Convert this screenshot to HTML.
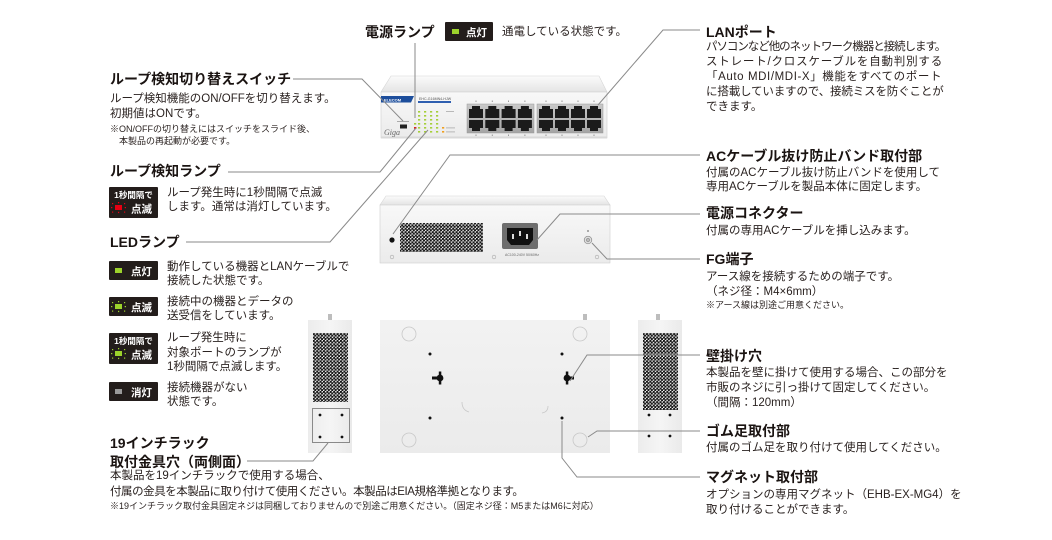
<!DOCTYPE html>
<html><head><meta charset="utf-8">
<style>
*{margin:0;padding:0;box-sizing:border-box}
body{width:1052px;height:540px;background:#fff;overflow:hidden;position:relative;font-family:"Liberation Sans","Noto Sans CJK JP",sans-serif;color:#231815}
.h{position:absolute;font-weight:bold;font-size:14px;line-height:18px;white-space:nowrap;color:#1a1311}
.t{position:absolute;font-size:11.5px;line-height:15px;white-space:nowrap;color:#2a2220}
.s{position:absolute;font-size:9px;line-height:11.5px;white-space:nowrap;color:#2a2220}
svg{position:absolute;left:0;top:0}
</style></head><body>
<svg width="1052" height="540" viewBox="0 0 1052 540" font-family="Liberation Sans, Noto Sans CJK JP, sans-serif">
<defs>
 <pattern id="mesh" width="3.4" height="3.4" patternUnits="userSpaceOnUse">
  <circle cx="0.85" cy="0.85" r="1.2" fill="#151515"/>
  <circle cx="2.55" cy="2.55" r="1.2" fill="#151515"/>
 </pattern>
 <linearGradient id="lid" x1="0" y1="0" x2="0" y2="1"><stop offset="0" stop-color="#fbfbfb"/><stop offset="1" stop-color="#e4e4e4"/></linearGradient>
 <linearGradient id="face" x1="0" y1="0" x2="0" y2="1"><stop offset="0" stop-color="#f8f8f8"/><stop offset="1" stop-color="#ebebeb"/></linearGradient>
 <linearGradient id="bot" x1="0" y1="0" x2="0" y2="1"><stop offset="0" stop-color="#f2f2f2"/><stop offset="1" stop-color="#ebebeb"/></linearGradient>
 <linearGradient id="side" x1="0" y1="0" x2="1" y2="0"><stop offset="0" stop-color="#ececec"/><stop offset="0.5" stop-color="#f5f5f5"/><stop offset="1" stop-color="#eaeaea"/></linearGradient>
 <linearGradient id="port" x1="0" y1="0" x2="0" y2="1"><stop offset="0" stop-color="#c9c9c9"/><stop offset="1" stop-color="#a4a4a4"/></linearGradient>
</defs>

<!-- FRONT DEVICE -->
<polygon points="391,76 599,76 607,92 381,92" fill="url(#lid)" stroke="#d6d6d6" stroke-width=".6"/>
<rect x="381" y="92" width="226" height="46" fill="url(#face)" stroke="#cfcfcf" stroke-width=".6"/>
<rect x="381" y="136.5" width="226" height="2" fill="#d9d9d9"/>
<polygon points="381,96 414,96 411,102.5 381,102.5" fill="#1d4e9c"/>
<text x="384" y="101.3" font-size="4" fill="#fff" font-weight="bold">ELECOM</text>
<text x="419" y="100" font-size="3.6" fill="#555">EHC-G16MN4-HJW</text>
<rect x="418" y="101" width="33" height="2" fill="#2f5fb0"/>
<g fill="#a6cf3a">
 <rect x="418" y="111" width="2.2" height="1.6"/><rect x="424" y="111" width="2.2" height="1.6"/><rect x="430" y="111" width="2.2" height="1.6"/><rect x="436" y="111" width="2.2" height="1.6"/>
 <rect x="418" y="115" width="2.2" height="1.6"/><rect x="424" y="115" width="2.2" height="1.6"/><rect x="430" y="115" width="2.2" height="1.6"/><rect x="436" y="115" width="2.2" height="1.6"/>
 <rect x="418" y="119" width="2.2" height="1.6"/><rect x="424" y="119" width="2.2" height="1.6"/><rect x="430" y="119" width="2.2" height="1.6"/><rect x="436" y="119" width="2.2" height="1.6"/>
 <rect x="418" y="123" width="2.2" height="1.6"/><rect x="424" y="123" width="2.2" height="1.6"/><rect x="430" y="123" width="2.2" height="1.6"/><rect x="436" y="123" width="2.2" height="1.6"/>
 <rect x="418" y="127" width="2.2" height="1.6"/><rect x="424" y="127" width="2.2" height="1.6"/><rect x="430" y="127" width="2.2" height="1.6"/><rect x="436" y="127" width="2.2" height="1.6"/>
 <rect x="418" y="131" width="2.2" height="1.6"/><rect x="424" y="131" width="2.2" height="1.6"/><rect x="430" y="131" width="2.2" height="1.6"/><rect x="436" y="131" width="2.2" height="1.6"/>
 <rect x="414" y="123" width="2.2" height="1.6"/>
</g>
<rect x="414" y="127" width="2.4" height="1.8" fill="#e0201a"/>
<rect x="442" y="127" width="2.2" height="1.6" fill="#f0a020"/>
<rect x="442" y="131" width="2.2" height="1.6" fill="#f0a020"/>
<rect x="446" y="111" width="8" height="0.8" fill="#aaa"/>
<rect x="446" y="127.5" width="9" height="0.8" fill="#aaa"/>
<rect x="446" y="131.5" width="9" height="0.8" fill="#aaa"/>
<rect x="397" y="121" width="12" height="0.8" fill="#999"/>
<rect x="400" y="124.5" width="7" height="4" fill="#222"/>
<text x="384" y="135" font-size="8" font-style="italic" font-family="Liberation Serif, serif" fill="#666">Giga</text>

<rect x="467" y="104" width="67" height="29" fill="url(#port)" stroke="#999" stroke-width=".5"/>
<rect x="537" y="104" width="66" height="29" fill="url(#port)" stroke="#999" stroke-width=".5"/>
<g fill="#1b1b1b">
 <path d="M469,109 h3 v-3 h8 v3 h3 v9 h-14 z"/><path d="M485.3,109 h3 v-3 h8 v3 h3 v9 h-14 z"/><path d="M501.6,109 h3 v-3 h8 v3 h3 v9 h-14 z"/><path d="M517.9,109 h3 v-3 h8 v3 h3 v9 h-14 z"/>
 <path d="M469,120 h14 v8 h-3 v3 h-8 v-3 h-3 z"/><path d="M485.3,120 h14 v8 h-3 v3 h-8 v-3 h-3 z"/><path d="M501.6,120 h14 v8 h-3 v3 h-8 v-3 h-3 z"/><path d="M517.9,120 h14 v8 h-3 v3 h-8 v-3 h-3 z"/>
 <path d="M539,109 h3 v-3 h8 v3 h3 v9 h-14 z"/><path d="M555,109 h3 v-3 h8 v3 h3 v9 h-14 z"/><path d="M571,109 h3 v-3 h8 v3 h3 v9 h-14 z"/><path d="M587,109 h3 v-3 h8 v3 h3 v9 h-14 z"/>
 <path d="M539,120 h14 v8 h-3 v3 h-8 v-3 h-3 z"/><path d="M555,120 h14 v8 h-3 v3 h-8 v-3 h-3 z"/><path d="M571,120 h14 v8 h-3 v3 h-8 v-3 h-3 z"/><path d="M587,120 h14 v8 h-3 v3 h-8 v-3 h-3 z"/>
</g>
<g fill="#999">
 <rect x="475.5" y="100.5" width="1" height="1.5"/><rect x="491.8" y="100.5" width="1" height="1.5"/><rect x="508" y="100.5" width="1" height="1.5"/><rect x="524.4" y="100.5" width="1" height="1.5"/>
 <rect x="545.5" y="100.5" width="1" height="1.5"/><rect x="561.5" y="100.5" width="1" height="1.5"/><rect x="577.5" y="100.5" width="1" height="1.5"/><rect x="593.5" y="100.5" width="1" height="1.5"/>
 <rect x="475.5" y="134.5" width="1" height="1.5"/><rect x="491.8" y="134.5" width="1" height="1.5"/><rect x="508" y="134.5" width="1" height="1.5"/><rect x="524.4" y="134.5" width="1" height="1.5"/>
 <rect x="545.5" y="134.5" width="1" height="1.5"/><rect x="561.5" y="134.5" width="1" height="1.5"/><rect x="577.5" y="134.5" width="1" height="1.5"/><rect x="593.5" y="134.5" width="1" height="1.5"/>
</g>

<!-- REAR DEVICE -->
<polygon points="386,196 604,196 610,205 380,205" fill="url(#lid)" stroke="#d6d6d6" stroke-width=".6"/>
<rect x="380" y="205" width="230" height="58" fill="url(#face)" stroke="#cfcfcf" stroke-width=".6"/>
<rect x="400" y="223" width="83" height="29" fill="url(#mesh)"/>
<rect x="502" y="223" width="36" height="26" rx="2" fill="#6e6e6e"/>
<path d="M507,228 h26 v12 l-4,5 h-18 l-4,-5 z" fill="#111"/>
<rect x="512" y="234" width="2" height="5" fill="#ddd"/>
<rect x="519" y="231" width="2" height="5" fill="#ddd"/>
<rect x="526" y="234" width="2" height="5" fill="#ddd"/>
<text x="505" y="256" font-size="3.5" fill="#666">AC100-240V 50/60Hz</text>
<circle cx="392" cy="240" r="2.6" fill="#111"/>
<circle cx="588" cy="240" r="3.8" fill="#ddd" stroke="#888" stroke-width=".7"/>
<circle cx="588" cy="240" r="1.7" fill="#bbb" stroke="#777" stroke-width=".5"/>
<rect x="587" y="230" width="2" height="2" fill="#aaa"/>
<g fill="none" stroke="#aaa" stroke-width=".6">
 <circle cx="392" cy="257" r="1.8"/><circle cx="494" cy="257" r="1.8"/><circle cx="597" cy="257" r="1.8"/>
</g>

<!-- BOTTOM VIEW -->
<rect x="380" y="320" width="230" height="133" fill="url(#bot)"/>
<g fill="none" stroke="#c8c8c8" stroke-width=".8">
 <circle cx="409" cy="334" r="7"/><circle cx="580" cy="334" r="7"/><circle cx="409" cy="440" r="7"/><circle cx="580" cy="440" r="7"/>
 <path d="M462,402 q0,8 7,10"/><path d="M548,406 q0,6 -6,7"/>
</g>
<g fill="#111">
 <circle cx="430" cy="354" r="1.5"/><circle cx="562" cy="354" r="1.5"/><circle cx="430" cy="418" r="1.5"/><circle cx="562" cy="418" r="1.5"/>
 <circle cx="440" cy="378" r="3.4"/><rect x="438.8" y="371.5" width="2.5" height="13"/><rect x="432" y="376.5" width="8" height="3"/>
 <circle cx="567" cy="378" r="3.4"/><rect x="565.8" y="371.5" width="2.5" height="13"/><rect x="567" y="376.5" width="7" height="3"/>
</g>
<g fill="#bdbdbd">
 <rect x="328" y="314" width="4" height="6"/><rect x="583" y="314" width="4" height="6"/><rect x="656" y="314" width="4" height="6"/>
</g>

<!-- SIDE PANELS -->
<rect x="308" y="320" width="44" height="133" fill="url(#side)"/>
<rect x="313" y="333" width="35" height="69" fill="url(#mesh)"/>
<rect x="312.5" y="408.5" width="37" height="34" fill="none" stroke="#8a8a8a" stroke-width="1"/>
<rect x="638" y="320" width="44" height="133" fill="url(#side)"/>
<rect x="643" y="333" width="35" height="77" fill="url(#mesh)"/>
<g fill="#111">
 <circle cx="320" cy="415" r="1.4"/><circle cx="342" cy="415" r="1.4"/><circle cx="320" cy="437" r="1.4"/><circle cx="342" cy="437" r="1.4"/>
 <circle cx="649" cy="415" r="1.4"/><circle cx="670" cy="415" r="1.4"/><circle cx="649" cy="436" r="1.4"/><circle cx="670" cy="436" r="1.4"/>
</g>

<!-- LEADER LINES -->
<g fill="none" stroke="#8a8a8a" stroke-width="1">
 <path d="M293,79 H362 L403,121"/>
 <path d="M415,43 V118"/>
 <path d="M228,172 H380 L416,128"/>
 <path d="M186,242 H330 L428,130"/>
 <path d="M700,30 H663 L598,105"/>
 <path d="M700,155 H450 L393,234"/>
 <path d="M700,214 H560 L537,240"/>
 <path d="M700,259 H607 L592,243"/>
 <path d="M700,355 H587 L570,381"/>
 <path d="M700,431 H597 L588,437"/>
 <path d="M562,421 V458 L577,477 H700"/>
 <path d="M247,461 H313 L328,443"/>
</g>

<!-- BADGES -->
<g font-weight="bold" fill="#fff">
 <rect x="445" y="22" width="48" height="19" rx="1" fill="#231d1b"/>
 <rect x="452" y="29" width="7" height="5" fill="#9cd22c"/>
 <text x="466" y="36" font-size="10.5">点灯</text>

 <rect x="109" y="187" width="49" height="31" rx="1" fill="#231d1b"/>
 <text x="133.5" y="198" font-size="8.5" text-anchor="middle">1秒間隔で</text>
 <rect x="115" y="205" width="7" height="5" fill="#e60012"/>
 <g fill="#e60012"><rect x="111" y="207" width="1.3" height="1.2"/><rect x="124.7" y="207" width="1.3" height="1.2"/><rect x="118" y="202" width="1.2" height="1.3"/><rect x="118" y="211.8" width="1.2" height="1.3"/><rect x="112" y="203" width="1.2" height="1.2"/><rect x="124" y="203" width="1.2" height="1.2"/><rect x="112" y="211.5" width="1.2" height="1.2"/><rect x="124" y="211.5" width="1.2" height="1.2"/></g>
 <text x="131" y="212.5" font-size="10.5">点滅</text>

 <rect x="109" y="261" width="49" height="19" rx="1" fill="#231d1b"/>
 <rect x="115" y="268" width="7" height="5" fill="#9cd22c"/>
 <text x="131" y="275" font-size="10.5">点灯</text>

 <rect x="109" y="297" width="49" height="19" rx="1" fill="#231d1b"/>
 <rect x="115" y="304" width="7" height="5" fill="#9cd22c"/>
 <g fill="#9cd22c"><rect x="111" y="306" width="1.3" height="1.2"/><rect x="124.7" y="306" width="1.3" height="1.2"/><rect x="118" y="301" width="1.2" height="1.3"/><rect x="118" y="310.8" width="1.2" height="1.3"/><rect x="112" y="302" width="1.2" height="1.2"/><rect x="124" y="302" width="1.2" height="1.2"/><rect x="112" y="310.5" width="1.2" height="1.2"/><rect x="124" y="310.5" width="1.2" height="1.2"/></g>
 <text x="131" y="311" font-size="10.5">点滅</text>

 <rect x="109" y="333" width="49" height="31" rx="1" fill="#231d1b"/>
 <text x="133.5" y="344" font-size="8.5" text-anchor="middle">1秒間隔で</text>
 <rect x="115" y="351" width="7" height="5" fill="#9cd22c"/>
 <g fill="#9cd22c"><rect x="111" y="353" width="1.3" height="1.2"/><rect x="124.7" y="353" width="1.3" height="1.2"/><rect x="118" y="348" width="1.2" height="1.3"/><rect x="118" y="357.8" width="1.2" height="1.3"/><rect x="112" y="349" width="1.2" height="1.2"/><rect x="124" y="349" width="1.2" height="1.2"/><rect x="112" y="357.5" width="1.2" height="1.2"/><rect x="124" y="357.5" width="1.2" height="1.2"/></g>
 <text x="131" y="358.5" font-size="10.5">点滅</text>

 <rect x="109" y="382" width="49" height="19" rx="1" fill="#231d1b"/>
 <rect x="115" y="389" width="7" height="5" fill="#9a9a9a"/>
 <text x="131" y="396" font-size="10.5">消灯</text>
</g>
</svg>

<!-- TOP CENTER -->
<div class="h" style="left:365px;top:23px">電源ランプ</div>
<div class="t" style="left:502px;top:24.5px">通電している状態です。</div>

<!-- LEFT COLUMN -->
<div class="h" style="left:110px;top:70px">ループ検知切り替えスイッチ</div>
<div class="t" style="left:110px;top:92px">ループ検知機能のON/OFFを切り替えます。<br>初期値はONです。</div>
<div class="s" style="left:110px;top:124px">※ON/OFFの切り替えにはスイッチをスライド後、<br>　本製品の再起動が必要です。</div>

<div class="h" style="left:110px;top:162px">ループ検知ランプ</div>
<div class="t" style="left:167px;top:186px;line-height:14px">ループ発生時に1秒間隔で点滅<br>します。通常は消灯しています。</div>

<div class="h" style="left:110px;top:233px">LEDランプ</div>
<div class="t" style="left:167px;top:260px;line-height:14px">動作している機器とLANケーブルで<br>接続した状態です。</div>
<div class="t" style="left:167px;top:295px;line-height:14px">接続中の機器とデータの<br>送受信をしています。</div>
<div class="t" style="left:167px;top:331px;line-height:14.5px">ループ発生時に<br>対象ポートのランプが<br>1秒間隔で点滅します。</div>
<div class="t" style="left:167px;top:381px;line-height:14px">接続機器がない<br>状態です。</div>

<div class="h" style="left:110px;top:434px;line-height:19px">19インチラック<br>取付金具穴（両側面）</div>
<div class="t" style="left:110px;top:468px;line-height:16px">本製品を19インチラックで使用する場合、</div>
<div class="t" style="left:110px;top:484px;line-height:16px;letter-spacing:-0.45px">付属の金具を本製品に取り付けて使用ください。本製品はEIA規格準拠となります。</div>
<div class="s" style="left:110px;top:501px">※19インチラック取付金具固定ネジは同梱しておりませんので別途ご用意ください。（固定ネジ径：M5またはM6に対応）</div>

<!-- RIGHT COLUMN -->
<div class="h" style="left:706px;top:23px">LANポート</div>
<div class="t" style="left:706px;top:39.5px;letter-spacing:-1.05px">パソコンなど他のネットワーク機器と接続します。</div>
<div class="t" style="left:706px;top:54.5px;letter-spacing:0.8px">ストレート/クロスケーブルを自動判別する</div>
<div class="t" style="left:706px;top:69.5px;letter-spacing:0.6px">「Auto MDI/MDI-X」機能をすべてのポート</div>
<div class="t" style="left:706px;top:84.5px;letter-spacing:-0.15px">に搭載していますので、接続ミスを防ぐことが</div>
<div class="t" style="left:706px;top:99.5px">できます。</div>

<div class="h" style="left:706px;top:147px">ACケーブル抜け防止バンド取付部</div>
<div class="t" style="left:706px;top:166px;line-height:14px">付属のACケーブル抜け防止バンドを使用して<br>専用ACケーブルを製品本体に固定します。</div>

<div class="h" style="left:706px;top:204px">電源コネクター</div>
<div class="t" style="left:706px;top:223.5px">付属の専用ACケーブルを挿し込みます。</div>

<div class="h" style="left:706px;top:250px">FG端子</div>
<div class="t" style="left:706px;top:269.5px">アース線を接続するための端子です。<br>（ネジ径：M4×6mm）</div>
<div class="s" style="left:706px;top:300px">※アース線は別途ご用意ください。</div>

<div class="h" style="left:706px;top:347px">壁掛け穴</div>
<div class="t" style="left:706px;top:365.5px">本製品を壁に掛けて使用する場合、この部分を<br>市販のネジに引っ掛けて固定してください。<br>（間隔：120mm）</div>

<div class="h" style="left:706px;top:422px">ゴム足取付部</div>
<div class="t" style="left:706px;top:440.5px">付属のゴム足を取り付けて使用してください。</div>

<div class="h" style="left:706px;top:468px">マグネット取付部</div>
<div class="t" style="left:706px;top:487.5px">オプションの専用マグネット（EHB-EX-MG4）を<br>取り付けることができます。</div>
</body></html>
